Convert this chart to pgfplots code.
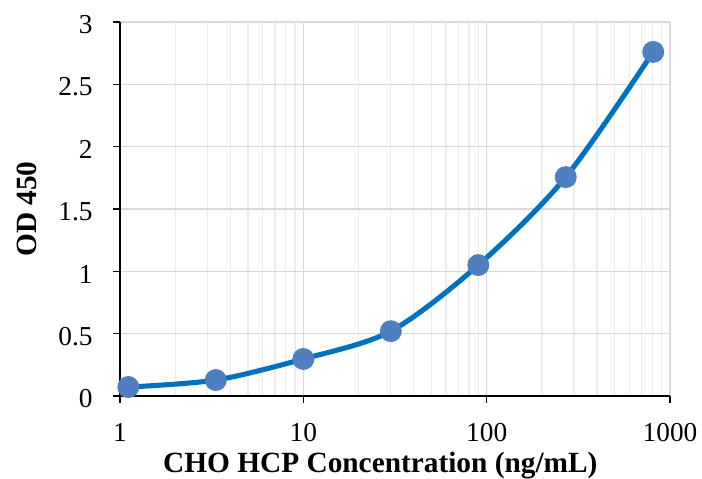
\documentclass[border=0pt]{standalone}
\usepackage{pgfplots}
\pgfplotsset{compat=1.18}
\usepackage{fontspec}
\setmainfont{Liberation Serif}
\definecolor{curve}{HTML}{0070C0}
\definecolor{dots}{HTML}{4F7FC0}
\begin{document}
\begin{tikzpicture}
\begin{axis}[
    name=main,
    scale only axis,
    width=412.5pt, height=280.5pt,
    xmode=log, log basis x=10,
    xmin=1, xmax=1000,
    ymin=0, ymax=3,
    xtick={1,10,100,1000},
    xticklabels={1,10,100,1000},
    minor xtick={2,3,4,5,6,7,8,9,20,30,40,50,60,70,80,90,200,300,400,500,600,700,800,900},
    ytick={0,0.5,1,1.5,2,2.5,3},
    yticklabels={0,0.5,1,1.5,2,2.5,3},
    /pgf/number format/assume math mode=true,
    axis lines=left,
    axis line style={-, black, line width=1.1pt},
    tick style={black, line width=1.1pt},
    tick align=outside,
    major tick length=5pt,
    minor tick length=0pt,
    xmajorgrids, xminorgrids, ymajorgrids,
    major grid style={draw=gray!30, line width=1pt},
    minor grid style={draw=gray!15, line width=1pt},
    ticklabel style={font=\fontsize{20.5}{23}\selectfont},
    xticklabel style={yshift=-12pt},
    yticklabel style={xshift=-12pt, yshift=-2pt},
    xlabel={\textbf{CHO HCP Concentration (ng/mL)}},
    ylabel={\textbf{OD 450}},
    label style={font=\fontsize{22}{24}\selectfont},
    xlabel style={at={(axis description cs:0.5,0)}, anchor=center, yshift=-52pt, xshift=-11pt},
    ylabel style={at={(axis description cs:0,0.5)}, anchor=center, yshift=70pt},
    clip=false,
]
\addplot[color=curve, line width=3.8pt, smooth, tension=0.5,
    mark=*, mark size=6.3pt, mark options={fill=dots, draw=dots}] coordinates {
    (1.11,0.072) (3.33,0.128) (10,0.297) (30,0.52) (90,1.05) (270,1.756) (810,2.76)
};
\end{axis}
\pgfresetboundingbox
\path ([xshift=-90pt, yshift=-62pt]main.south west) rectangle ([xshift=24pt, yshift=16.5pt]main.north east);
\end{tikzpicture}
\end{document}
